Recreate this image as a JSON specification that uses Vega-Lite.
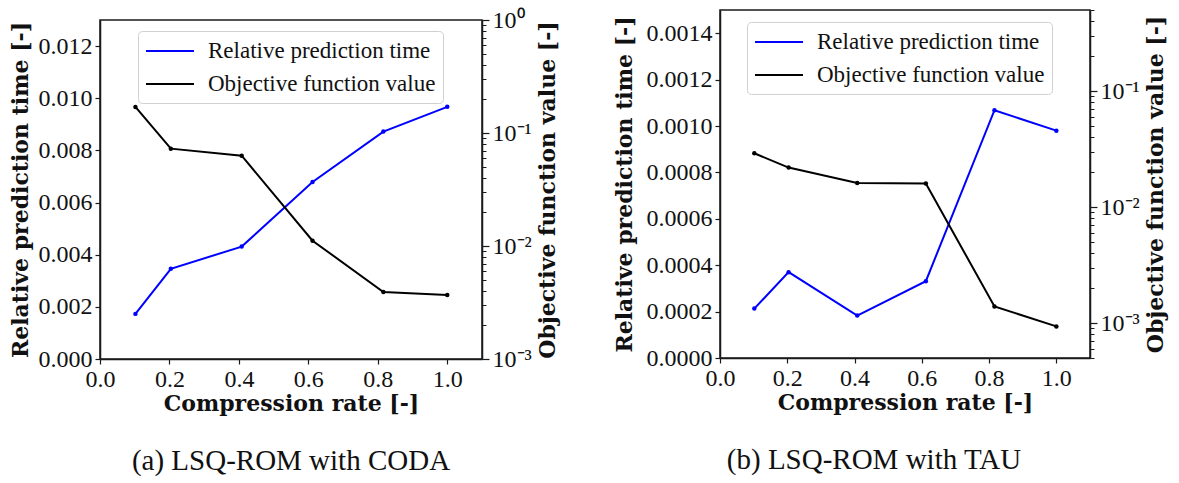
{
  "$schema": "https://vega.github.io/schema/vega-lite/v6.json",
  "background": "white",
  "padding": {"left": 8, "top": 7, "right": 5, "bottom": 5},
  "datasets": {
    "coda": [
      {"rate": 0.102, "time": 0.00173, "objective": 0.170},
      {"rate": 0.204, "time": 0.00346, "objective": 0.0727},
      {"rate": 0.408, "time": 0.00431, "objective": 0.0630},
      {"rate": 0.612, "time": 0.00679, "objective": 0.01114},
      {"rate": 0.816, "time": 0.00872, "objective": 0.00392},
      {"rate": 1.0, "time": 0.00967, "objective": 0.00368}
    ],
    "tau": [
      {"rate": 0.102, "time": 0.000213, "objective": 0.0291},
      {"rate": 0.204, "time": 0.000370, "objective": 0.0219},
      {"rate": 0.408, "time": 0.000183, "objective": 0.0161},
      {"rate": 0.612, "time": 0.000331, "objective": 0.0160},
      {"rate": 0.816, "time": 0.001068, "objective": 0.00139},
      {"rate": 1.0, "time": 0.000980, "objective": 0.000936}
    ]
  },
  "config": {
    "view": {"stroke": "#1a1a1a", "strokeWidth": 1.5},
    "axis": {
      "grid": false,
      "domainColor": "#1a1a1a",
      "domainWidth": 1.5,
      "tickColor": "#1a1a1a",
      "tickWidth": 1.2,
      "tickSize": 5,
      "labelFont": "Liberation Serif",
      "labelFontSize": 24,
      "labelColor": "#111",
      "labelPadding": 3,
      "titleFont": "DejaVu Serif",
      "titleFontWeight": "bold",
      "titleFontSize": 22,
      "titleColor": "#111",
      "labelFlush": false,
      "labelOverlap": false
    },
    "legend": {
      "orient": "none",
      "title": null,
      "symbolStrokeWidth": 2,
      "symbolSize": 576,
      "labelFont": "Liberation Serif",
      "labelFontSize": 23,
      "labelColor": "#111",
      "labelLimit": 400,
      "labelOffset": 37,
      "fillColor": "rgba(255,255,255,0.85)",
      "strokeColor": "#d0d0d0",
      "cornerRadius": 4,
      "padding": 7,
      "rowPadding": 8
    }
  },
  "resolve": {"scale": {"color": "independent"}, "legend": {"color": "independent"}},
  "spacing": 53,
  "hconcat": [
    {
      "spacing": -4,
      "vconcat": [
        {
          "data": {"values": []},
          "mark": "point",
          "width": 10,
          "height": 1,
          "view": {"stroke": null}
        },
        {
          "data": {"name": "coda"},
          "width": 382,
          "height": 339,
          "title": {"text": "(a) LSQ-ROM with CODA", "orient": "bottom", "anchor": "middle", "font": "Liberation Serif", "fontSize": 29, "fontWeight": "normal", "color": "#111", "offset": 33},
          "encoding": {
            "x": {"field": "rate", "type": "quantitative", "scale": {"domain": [0, 1.1]},
              "axis": {"values": [0, 0.2, 0.4, 0.6, 0.8, 1.0], "format": ".1f", "title": "Compression rate [-]", "titlePadding": 2}}
          },
          "layer": [
            {
              "mark": {"type": "line", "strokeWidth": 2, "point": {"filled": true, "size": 20}},
              "encoding": {
                "y": {"field": "time", "type": "quantitative", "scale": {"domain": [0, 0.013], "nice": false},
                  "axis": {"orient": "left", "values": [0, 0.002, 0.004, 0.006, 0.008, 0.01, 0.012], "format": ".3f", "title": "Relative prediction time [-]", "titlePadding": 6}},
                "color": {"datum": "Relative prediction time", "type": "nominal",
                  "scale": {"domain": ["Relative prediction time", "Objective function value"], "range": ["#0000ff", "#000000"]},
                  "legend": {"legendX": 38, "legendY": 21, "symbolType": "M-1,0L3,0"}}
              }
            },
            {
              "mark": {"type": "line", "strokeWidth": 2},
              "encoding": {
                "y": {"field": "objective", "type": "quantitative", "scale": {"type": "log", "domain": [0.001, 1], "nice": false},
                  "axis": {"orient": "right", "values": [1, 0.1, 0.01, 0.001], "tickSize": 7,
                    "labelExpr": "datum.value > 0.5 ? '10⁰' : datum.value > 0.05 ? '10⁻¹' : datum.value > 0.005 ? '10⁻²' : '10⁻³'",
                    "title": "Objective function value [-]", "titleAngle": 270, "titleBaseline": "top", "titlePadding": 6}},
                "color": {"datum": "Objective function value", "type": "nominal"}
              }
            },
            {
              "mark": {"type": "point", "filled": true, "size": 20, "color": "#000000", "opacity": 1},
              "encoding": {
                "y": {"field": "objective", "type": "quantitative", "scale": {"type": "log", "domain": [0.001, 1], "nice": false},
                  "axis": {"orient": "right", "values": [0.002, 0.003, 0.004, 0.005, 0.006, 0.007, 0.008, 0.009, 0.02, 0.03, 0.04, 0.05, 0.06, 0.07, 0.08, 0.09, 0.2, 0.3, 0.4, 0.5, 0.6, 0.7, 0.8, 0.9],
                    "labels": false, "domain": false, "tickSize": 4, "tickWidth": 1, "title": null}}
              }
            }
          ],
          "resolve": {"scale": {"y": "independent"}}
        }
      ]
    },
    {
      "data": {"name": "tau"},
      "width": 370,
      "height": 348,
      "title": {"text": "(b) LSQ-ROM with TAU", "orient": "bottom", "anchor": "middle", "font": "Liberation Serif", "fontSize": 29, "fontWeight": "normal", "color": "#111", "offset": 33, "dx": -31},
      "encoding": {
        "x": {"field": "rate", "type": "quantitative", "scale": {"domain": [0, 1.1]},
          "axis": {"values": [0, 0.2, 0.4, 0.6, 0.8, 1.0], "format": ".1f", "title": "Compression rate [-]", "titlePadding": 2}}
      },
      "layer": [
        {
          "mark": {"type": "line", "strokeWidth": 2, "point": {"filled": true, "size": 20}},
          "encoding": {
            "y": {"field": "time", "type": "quantitative", "scale": {"domain": [0, 0.0015], "nice": false},
              "axis": {"orient": "left", "values": [0, 0.0002, 0.0004, 0.0006, 0.0008, 0.001, 0.0012, 0.0014], "format": ".4f", "title": "Relative prediction time [-]", "titlePadding": 10}},
            "color": {"datum": "Relative prediction time", "type": "nominal",
              "scale": {"domain": ["Relative prediction time", "Objective function value"], "range": ["#0000ff", "#000000"]},
              "legend": {"legendX": 27, "legendY": 12, "symbolType": "M-1,0L3,0"}}
          }
        },
        {
          "mark": {"type": "line", "strokeWidth": 2},
          "encoding": {
            "y": {"field": "objective", "type": "quantitative", "scale": {"type": "log", "domain": [0.0005, 0.5], "nice": false},
              "axis": {"orient": "right", "values": [0.1, 0.01, 0.001], "tickSize": 7,
                "labelExpr": "datum.value > 0.5 ? '10⁰' : datum.value > 0.05 ? '10⁻¹' : datum.value > 0.005 ? '10⁻²' : '10⁻³'",
                "title": "Objective function value [-]", "titleAngle": 270, "titleBaseline": "top", "titlePadding": 6}},
            "color": {"datum": "Objective function value", "type": "nominal"}
          }
        },
        {
          "mark": {"type": "point", "filled": true, "size": 20, "color": "#000000", "opacity": 1},
          "encoding": {
            "y": {"field": "objective", "type": "quantitative", "scale": {"type": "log", "domain": [0.0005, 0.5], "nice": false},
              "axis": {"orient": "right", "values": [0.0005, 0.0006, 0.0007, 0.0008, 0.0009, 0.002, 0.003, 0.004, 0.005, 0.006, 0.007, 0.008, 0.009, 0.02, 0.03, 0.04, 0.05, 0.06, 0.07, 0.08, 0.09, 0.2, 0.3, 0.4, 0.5],
                "labels": false, "domain": false, "tickSize": 4, "tickWidth": 1, "title": null}}
          }
        }
      ],
      "resolve": {"scale": {"y": "independent"}}
    }
  ]
}
